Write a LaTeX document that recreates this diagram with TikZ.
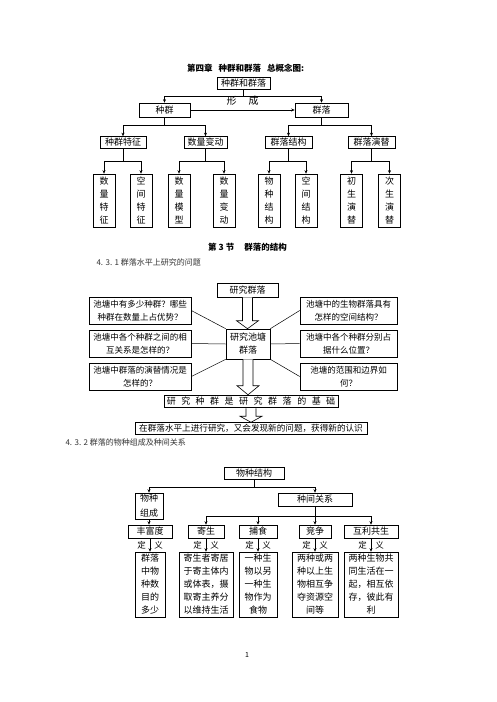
\documentclass[tikz,border=0pt]{standalone}
\usepackage{fontspec}
\setmainfont{Noto Sans CJK SC}
\usetikzlibrary{arrows.meta,calc}
\tikzset{
  box/.style={draw, line width=0.6pt, inner sep=0pt, align=center, font=\fontsize{9}{13}\selectfont},
  leaf/.style={box, minimum width=22pt, minimum height=53pt},
  tier/.style={box, minimum height=12pt},
  qbox/.style={box, minimum width=102pt, minimum height=27pt, font=\fontsize{8.5}{13}\selectfont},
  rbox/.style={qbox, minimum width=97pt},
  defbox/.style={box, minimum height=65pt},
  head/.style={font=\bfseries\fontsize{8.5}{10}\selectfont},
  sub/.style={anchor=west, text=black!80, font=\fontsize{8}{10}\selectfont},
  arr/.style={-{Stealth[length=3.5pt,width=3pt]}, line width=0.5pt},
  conn/.style={line width=0.5pt},
  dy/.style={inner sep=0pt, font=\fontsize{8.5}{10}\selectfont}
}
\newcommand{\fatarrow}[3]{%
  \draw[line width=0.6pt, fill=white] let \p1=(#1.south), \p2=(#2.north) in
    (\x1-5,\y1) -- (\x1-5,\y2+#3) -- (\x1-11,\y2+#3) -- (\x1,\y2)
    -- (\x1+11,\y2+#3) -- (\x1+5,\y2+#3) -- (\x1+5,\y1);}
\newcommand{\gp}{\hspace{5.5pt}}

\begin{document}
\begin{tikzpicture}[x=1pt, y=-1pt]
  \useasboundingbox[fill=white] (0,0) rectangle (496,702);

  % overall concept map
  \node[head] (title) at (245.5,68) {第四章\hspace{6pt}种群和群落\hspace{6pt}总概念图:};
  \node[tier, minimum width=53pt] (root) at (243.5,83) {种群和群落};
  \node[box, minimum width=51pt, minimum height=14pt] (zq) at (164.5,110) {种群};
  \node[box, minimum width=53pt, minimum height=14pt] (ql) at (321.5,110) {群落};
  \draw[conn] (root.south) -- ++(0,7) coordinate (j0);
  \draw[arr] (j0) -| (zq.north);
  \draw[arr] (j0) -| (ql.north);
  \draw[arr] (zq.east) -- node[above=1pt, name=xc] {形\hspace{12pt}成} (ql.west);

  \node[tier, minimum width=46pt] (zqtz) at (123,142.5) {种群特征};
  \node[tier, minimum width=43pt] (slbd) at (205.5,142.5) {数量变动};
  \node[tier, minimum width=47pt] (qljg) at (288.5,142.5) {群落结构};
  \node[tier, minimum width=47pt] (qlyt) at (371.5,142.5) {群落演替};
  \draw[conn] (zq.south) -- ++(0,8) coordinate (j1);
  \draw[arr] (j1) -| (zqtz.north);
  \draw[arr] (j1) -| (slbd.north);
  \draw[conn] (ql.south) -- ++(0,8) coordinate (j2);
  \draw[arr] (j2) -| (qljg.north);
  \draw[arr] (j2) -| (qlyt.north);

  \node[leaf] (sltz) at (104,200.5) {数\\量\\特\\征};
  \node[leaf] (kjtz) at (141,200.5) {空\\间\\特\\征};
  \node[leaf] (slmx) at (179,200.5) {数\\量\\模\\型};
  \node[leaf] (slbdl) at (224,200.5) {数\\量\\变\\动};
  \node[leaf] (wzjgl) at (269,200.5) {物\\种\\结\\构};
  \node[leaf] (kjjg) at (306,200.5) {空\\间\\结\\构};
  \node[leaf] (csyt) at (351.5,200.5) {初\\生\\演\\替};
  \node[leaf] (ccyt) at (389.5,200.5) {次\\生\\演\\替};
  \draw[conn] (zqtz.south) -- ++(0,12.5) coordinate (j3);
  \draw[arr] (j3) -| (sltz.north);
  \draw[arr] (j3) -| (kjtz.north);
  \draw[conn] (slbd.south) -- ++(0,12.5) coordinate (j4);
  \draw[arr] (j4) -| (slmx.north);
  \draw[arr] (j4) -| (slbdl.north);
  \draw[conn] (qljg.south) -- ++(0,12.5) coordinate (j5);
  \draw[arr] (j5) -| (wzjgl.north);
  \draw[arr] (j5) -| (kjjg.north);
  \draw[conn] (qlyt.south) -- ++(0,12.5) coordinate (j6);
  \draw[arr] (j6) -| (csyt.north);
  \draw[arr] (j6) -| (ccyt.north);

  % 4.3.1
  \node[head] (sec3) at (247.5,247) {第 3 节\hspace{10pt}群落的结构};
  \node[sub] (h431) at (93,262) {4. 3. 1 群落水平上研究的问题};
  \node[box, minimum width=61pt, minimum height=14pt] (yjql) at (247.5,290) {研究群落};
  \node[box, minimum width=44pt, minimum height=30pt] (yjct) at (248,344) {研究池塘\\群落};
  \node[qbox] (q1) at (140,310.5) {池塘中有多少种群？哪些\\种群在数量上占优势？};
  \node[qbox] (q2) at (140,343.5) {池塘中各个种群之间的相\\互关系是怎样的？};
  \node[qbox] (q3) at (140,376.5) {池塘中群落的演替情况是\\怎样的？};
  \node[rbox] (r1) at (348.5,310.5) {池塘中的生物群落具有\\怎样的空间结构？};
  \node[rbox] (r2) at (348.5,343.5) {池塘中各个种群分别占\\据什么位置？};
  \node[rbox] (r3) at (348.5,376.5) {池塘的范围和边界如\\何？};
  \draw[conn] (q1.east) -- (yjct.north west);
  \draw[conn] (q2.east) -- (yjct.west);
  \draw[conn] (q3.east) -- (yjct.south west);
  \draw[conn] (yjct.north east) -- (r1.west);
  \draw[conn] (yjct.east) -- (r2.west);
  \draw[conn] (yjct.south east) -- (r3.west);
  \node[box, line width=1pt, minimum width=174pt, minimum height=12.5pt] (jc) at (251,401.5)
    {研\gp 究\gp 种\gp 群\gp 是\gp 研\gp 究\gp 群\gp 落\gp 的\gp 基\gp 础};
  \node[box, line width=1pt, minimum width=232pt, minimum height=11.5pt,
        font=\fontsize{8.6}{10}\selectfont] (rs) at (251,428.5)
    {在群落水平上进行研究，又会发现新的问题，获得新的认识};
  \fatarrow{yjql}{yjct}{8}
  \fatarrow{yjct}{jc}{9}
  \fatarrow{jc}{rs}{6}

  % 4.3.2
  \node[sub] (h432) at (62,442) {4. 3. 2 群落的物种组成及种间关系};
  \node[tier, minimum width=60pt] (wzjg) at (254,473) {物种结构};
  \node[box, minimum width=28pt, minimum height=26pt, font=\fontsize{9}{15}\selectfont] (wzzc) at (149,506) {物种\\组成};
  \node[box, minimum width=74pt, minimum height=13pt] (zjgx) at (315,499.5) {种间关系};
  \draw[conn] (wzjg.south) -- ++(0,8) coordinate (j7);
  \draw[arr] (j7) -| (wzzc.north);
  \draw[arr] (j7) -| (zjgx.north);

  \node[box, minimum width=44pt, minimum height=13pt] (ffd) at (150,531.5) {丰富度};
  \node[box, minimum width=36pt, minimum height=13pt] (jsh) at (206,531.5) {寄生};
  \node[box, minimum width=38pt, minimum height=13pt] (bsh) at (258,531.5) {捕食};
  \node[box, minimum width=32pt, minimum height=13pt] (jzh) at (315,531.5) {竞争};
  \node[box, minimum width=54pt, minimum height=13pt] (hlgs) at (371,531.5) {互利共生};
  \draw[arr] (wzzc.south) -- (wzzc.south |- ffd.north);
  \draw[conn] (zjgx.south) -- ++(0,10) coordinate (j8);
  \draw[arr] (j8) -| (jsh.north);
  \draw[arr] (j8) -| (bsh.north);
  \draw[arr] (j8) -| (jzh.north);
  \draw[arr] (j8) -| (hlgs.north);

  \node[defbox, minimum width=30pt] (d1) at (150,584.5) {群落\\中物\\种数\\目的\\多少};
  \node[defbox, minimum width=54pt] (d2) at (206,584.5) {寄生者寄居\\于寄主体内\\或体表，摄\\取寄主养分\\以维持生活};
  \node[defbox, minimum width=38pt] (d3) at (258,584.5) {一种生\\物以另\\一种生\\物作为\\食物};
  \node[defbox, minimum width=46pt] (d4) at (315,584.5) {两种或两\\种以上生\\物相互争\\夺资源空\\间等};
  \node[defbox, minimum width=54pt] (d5) at (371,584.5) {两种生物共\\同生活在一\\起，相互依\\存，彼此有\\利};
  \draw[arr] (ffd.south) -- node[dy, left=4pt, name=dl1] {定} node[dy, right=4pt, name=dr1] {义} (d1.north);
  \draw[arr] (jsh.south) -- node[dy, left=4pt, name=dl2] {定} node[dy, right=4pt, name=dr2] {义} (d2.north);
  \draw[arr] (bsh.south) -- node[dy, left=4pt, name=dl3] {定} node[dy, right=4pt, name=dr3] {义} (d3.north);
  \draw[arr] (jzh.south) -- node[dy, left=4pt, name=dl4] {定} node[dy, right=4pt, name=dr4] {义} (d4.north);
  \draw[arr] (hlgs.south) -- node[dy, left=4pt, name=dl5] {定} node[dy, right=4pt, name=dr5] {义} (d5.north);

  \node[font=\fontsize{7}{8}\selectfont] (pg) at (247,655) {1};
\end{tikzpicture}
\end{document}
